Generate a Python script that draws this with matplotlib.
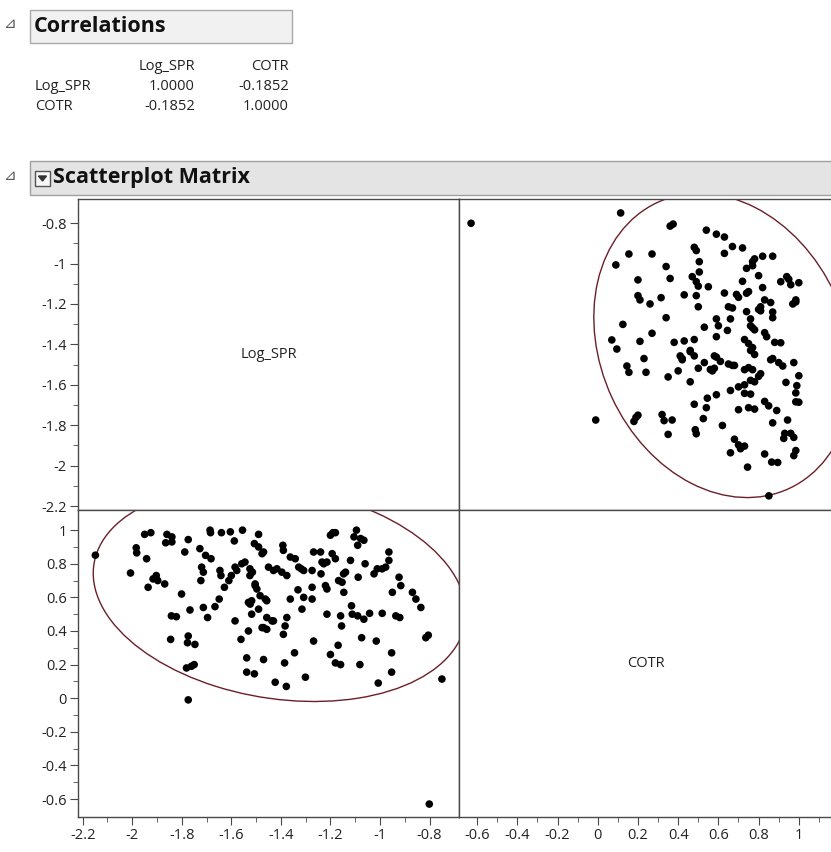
import numpy as np
import matplotlib
matplotlib.use("Agg")
import matplotlib.pyplot as plt
from matplotlib.patches import Ellipse, Rectangle, Polygon
from matplotlib.ticker import FixedLocator, FuncFormatter

plt.rcParams['font.family'] = ['Open Sans', 'DejaVu Sans']

# data (Log_SPR, COTR pairs)
log_spr = [
    -2.149, -1.774, -0.801, -0.750, -0.815, -0.805,
    -1.950, -1.925, -1.860, -1.840, -1.686, -1.684, -1.640, -1.604, -1.555, -1.490,
    -1.200, -1.180, -1.095, -1.105, -1.078,
    -1.984, -1.982, -1.865, -1.840, -1.774, -1.788, -1.727, -1.942, -1.704, -1.682,
    -1.588, -1.507, -1.490, -1.476, -1.470, -1.392, -1.390, -1.342, -1.268, -1.240,
    -1.193, -1.180, -1.090, -1.065, -1.119, -0.964, -0.964, -1.060,
    -2.007, -1.720, -1.713, -1.723, -1.646, -1.642, -1.585, -1.578, -1.558, -1.545,
    -1.600, -1.610, -1.525, -1.515, -1.525, -1.504, -1.450, -1.430, -1.416, -1.396,
    -1.376, -1.318, -1.308, -1.274, -1.234, -1.227, -1.238, -1.167, -1.153, -1.139,
    -1.088, -1.024, -1.011, -0.991, -0.977, -0.923, -1.916, -1.903, -1.897, -1.869,
    -1.936,
    -1.801, -1.649, -1.628, -1.666, -1.504, -1.497, -1.484, -1.463, -1.457, -1.531,
    -1.518, -1.490, -1.362, -1.331, -1.308, -1.274, -1.315, -1.274, -1.220, -1.214,
    -1.146, -0.950, -0.916, -0.869, -0.855, -0.835,
    -1.842, -1.822, -1.767, -1.713, -1.696, -1.585, -1.518, -1.457, -1.430, -1.376,
    -1.383, -1.214, -1.159, -1.155, -1.115, -1.112, -1.090, -1.065, -1.042, -0.991,
    -0.936, -0.920,
    -1.845, -1.774, -1.777, -1.747, -1.561, -1.531, -1.476, -1.457, -1.390, -1.268,
    -1.169, -1.074, -1.015,
    -1.781, -1.761, -1.750, -1.538, -1.470, -1.385, -1.345, -1.200, -1.180, -1.159,
    -1.081, -0.953,
    -1.538, -1.507, -1.423, -1.378, -1.301, -1.007, -0.953,
    -1.524, -1.470, -1.436, -1.362, -1.328, -1.190, -1.214, -1.147,
]
cotr = [
    0.851, -0.010, -0.630, 0.114, 0.360, 0.375,
    0.975, 0.985, 0.975, 0.960, 1.000, 0.985, 0.985, 0.990, 1.000, 0.975,
    0.970, 0.985, 1.000, 0.960, 0.950,
    0.895, 0.865, 0.925, 0.930, 0.944, 0.870, 0.890, 0.830, 0.850, 0.830,
    0.936, 0.920, 0.900, 0.860, 0.870, 0.910, 0.880, 0.830, 0.870, 0.870,
    0.860, 0.830, 0.910, 0.940, 0.820, 0.870, 0.820, 0.800,
    0.745, 0.780, 0.750, 0.700, 0.760, 0.730, 0.780, 0.760, 0.800, 0.810,
    0.730, 0.700, 0.770, 0.750, 0.730, 0.680, 0.780, 0.760, 0.770, 0.750,
    0.730, 0.770, 0.760, 0.760, 0.810, 0.800, 0.740, 0.700, 0.690, 0.750,
    0.720, 0.740, 0.770, 0.770, 0.780, 0.720, 0.710, 0.730, 0.700, 0.680,
    0.660,
    0.620, 0.590, 0.660, 0.545, 0.670, 0.650, 0.610, 0.590, 0.580, 0.570,
    0.580, 0.530, 0.590, 0.645, 0.600, 0.590, 0.530, 0.660, 0.670, 0.650,
    0.630, 0.630, 0.670, 0.630, 0.590, 0.540,
    0.490, 0.485, 0.525, 0.540, 0.480, 0.460, 0.500, 0.480, 0.460, 0.480,
    0.430, 0.500, 0.490, 0.430, 0.550, 0.500, 0.490, 0.470, 0.505, 0.505,
    0.490, 0.480,
    0.350, 0.370, 0.330, 0.320, 0.350, 0.400, 0.420, 0.410, 0.380, 0.340,
    0.315, 0.360, 0.340,
    0.180, 0.190, 0.200, 0.240, 0.230, 0.210, 0.270, 0.260, 0.210, 0.200,
    0.200, 0.270,
    0.155, 0.145, 0.095, 0.070, 0.125, 0.090, 0.155,
    0.560, 0.420, 0.460, 0.840, 0.780, 0.985, 0.810, 0.740,
]
var_names = ['Log_SPR', 'COTR']
corr_values = [[1.0000, -0.1852], [-0.1852, 1.0000]]

log_spr_ticks = [-2.2, -2.0, -1.8, -1.6, -1.4, -1.2, -1.0, -0.8]
cotr_ticks = [-0.6, -0.4, -0.2, 0.0, 0.2, 0.4, 0.6, 0.8, 1.0]

W, H = 831, 852
fig = plt.figure(figsize=(W / 100, H / 100), dpi=100, facecolor='white')


def fx(x):
    return x / W


def fy(y):
    return 1 - y / H


def add_axes_px(x0, y0, x1, y1):
    return fig.add_axes([fx(x0), fy(y1), (x1 - x0) / W, (y1 - y0) / H])


def fmt(v, _pos=None):
    v = round(v, 2)
    if v == 0:
        return '0'
    return f'{v:g}'


def minor_of(ticks):
    step = (ticks[1] - ticks[0]) / 2
    return [t + step for t in ticks]


# header: Correlations
fig.patches.append(Rectangle((fx(30), fy(43)), (292 - 30) / W, 33 / H,
                             transform=fig.transFigure, facecolor='#f1f1f1',
                             edgecolor='#a9a9a9', lw=1))
fig.text(fx(4), fy(24), '⊿', fontsize=11, color='#555', family='DejaVu Sans', va='center')
fig.text(fx(34), fy(26), 'Correlations', fontsize=15.5, fontweight='bold', va='center',
         color='#111')

fig.text(fx(195), fy(66), var_names[0], ha='right', va='center', fontsize=10.5, color='#222')
fig.text(fx(289), fy(66), var_names[1], ha='right', va='center', fontsize=10.5, color='#222')
for i, name in enumerate(var_names):
    yy = fy(87 + 20 * i)
    fig.text(fx(35), yy, name, ha='left', va='center', fontsize=10.5, color='#222')
    for j, xr in enumerate([195, 289]):
        fig.text(fx(xr), yy, f'{corr_values[i][j]:.4f}', ha='right', va='center',
                 fontsize=10.5, color='#222')

# header: Scatterplot Matrix
fig.patches.append(Rectangle((fx(30), fy(195)), (840 - 30) / W, 34 / H,
                             transform=fig.transFigure, facecolor='#e4e4e4',
                             edgecolor='#a0a0a0', lw=1))
fig.text(fx(4), fy(176), '⊿', fontsize=11, color='#555', family='DejaVu Sans', va='center')
fig.patches.append(Rectangle((fx(35), fy(186)), 15 / W, 15 / H, transform=fig.transFigure,
                             facecolor='#f7f7f7', edgecolor='#555', lw=1))
fig.patches.append(Polygon([(fx(38.5), fy(176)), (fx(46.5), fy(176)), (fx(42.5), fy(181))],
                           closed=True, transform=fig.transFigure, facecolor='#333',
                           edgecolor='#333'))
fig.text(fx(53), fy(178), 'Scatterplot Matrix', fontsize=15.5, fontweight='bold',
         va='center', color='#111')

# panel geometry (pixels)
cols = [78, 459, 832]
rows = [199, 510, 817]
spr_lim = (-2.219, -0.681)
cotr_ylim = (-0.707, 1.12)
cotr_xlim = (-0.69, 1.165)

ax_ul = add_axes_px(cols[0], rows[0], cols[1], rows[1])
ax_ur = add_axes_px(cols[1], rows[0], cols[2], rows[1])
ax_ll = add_axes_px(cols[0], rows[1], cols[1], rows[2])
ax_lr = add_axes_px(cols[1], rows[1], cols[2], rows[2])

for ax in [ax_ul, ax_ur, ax_ll, ax_lr]:
    ax.set_facecolor('white')
    for sp in ax.spines.values():
        sp.set_color('#4a4a4a')
        sp.set_linewidth(1)
    ax.tick_params(which='both', direction='out', color='#4a4a4a', labelsize=10.5,
                   labelcolor='#222', bottom=False, left=False,
                   labelbottom=False, labelleft=False)
    ax.tick_params(which='major', length=6, pad=2)
    ax.tick_params(which='minor', length=3.5)

ax_ul.set_xlim(0, 1)
ax_ul.set_ylim(*spr_lim)
ax_ur.set_xlim(*cotr_xlim)
ax_ur.set_ylim(*spr_lim)
ax_ll.set_xlim(*spr_lim)
ax_ll.set_ylim(*cotr_ylim)
ax_lr.set_xlim(*cotr_xlim)
ax_lr.set_ylim(*cotr_ylim)

ax_ul.yaxis.set_major_locator(FixedLocator(log_spr_ticks))
ax_ul.yaxis.set_minor_locator(FixedLocator(minor_of(log_spr_ticks)[:-1]))
ax_ul.yaxis.set_major_formatter(FuncFormatter(fmt))
ax_ul.tick_params(axis='y', which='both', left=True, labelleft=True)

ax_ll.yaxis.set_major_locator(FixedLocator(cotr_ticks))
ax_ll.yaxis.set_minor_locator(FixedLocator(minor_of(cotr_ticks)[:-1]))
ax_ll.yaxis.set_major_formatter(FuncFormatter(fmt))
ax_ll.xaxis.set_major_locator(FixedLocator(log_spr_ticks))
ax_ll.xaxis.set_minor_locator(FixedLocator(minor_of(log_spr_ticks)[:-1]))
ax_ll.xaxis.set_major_formatter(FuncFormatter(fmt))
ax_ll.tick_params(axis='y', which='both', left=True, labelleft=True)
ax_ll.tick_params(axis='x', which='both', bottom=True, labelbottom=True)

ax_lr.xaxis.set_major_locator(FixedLocator(cotr_ticks))
ax_lr.xaxis.set_minor_locator(FixedLocator(minor_of(cotr_ticks)))
ax_lr.xaxis.set_major_formatter(FuncFormatter(fmt))
ax_lr.tick_params(axis='x', which='both', bottom=True, labelbottom=True)

ax_ul.set_xticks([])
ax_ur.set_xticks([])
ax_ur.set_yticks([])
ax_lr.set_yticks([])

# diagonal labels
ax_ul.text(0.5, 0.5, var_names[0], transform=ax_ul.transAxes, ha='center', va='center',
           fontsize=10.5, color='#222')
ax_lr.text(0.5, 0.5, var_names[1], transform=ax_lr.transAxes, ha='center', va='center',
           fontsize=10.5, color='#222')

# scatter points
ax_ll.scatter(log_spr, cotr, s=30, color='black', edgecolors='none', zorder=3)
ax_ur.scatter(cotr, log_spr, s=30, color='black', edgecolors='none', zorder=3)

# 95% density ellipse: data means/std with the reported correlation
x = np.array(log_spr)
y = np.array(cotr)
mean = np.array([x.mean(), y.mean()])
sx, sy = x.std(ddof=1), y.std(ddof=1)
r = corr_values[0][1]
cov = np.array([[sx * sx, r * sx * sy], [r * sx * sy, sy * sy]])
vals, vecs = np.linalg.eigh(cov)
order = vals.argsort()[::-1]
vals, vecs = vals[order], vecs[:, order]
chi2_95 = 5.991
width, height = 2 * np.sqrt(chi2_95 * vals)
angle = np.degrees(np.arctan2(vecs[1, 0], vecs[0, 0]))
ell_color = '#6b1f2a'
ax_ll.add_patch(Ellipse(mean, width, height, angle=angle, fill=False,
                        edgecolor=ell_color, lw=1.0, zorder=2))
ax_ur.add_patch(Ellipse(mean[::-1], width, height, angle=90 - angle, fill=False,
                        edgecolor=ell_color, lw=1.0, zorder=2))

fig.savefig('out.png', dpi=100, facecolor='white')
